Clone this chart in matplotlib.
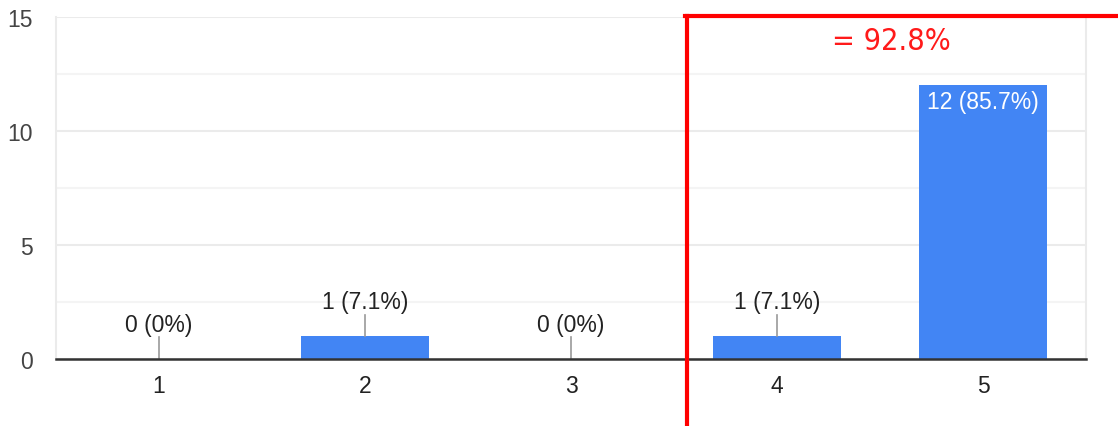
import numpy as np
import matplotlib.pyplot as plt
from matplotlib.lines import Line2D

categories = ["1", "2", "3", "4", "5"]
counts = [0, 1, 0, 1, 12]
percents = ["0%", "7.1%", "0%", "7.1%", "85.7%"]
total_note = "= 92.8%"

plt.rcParams['font.family'] = ['Liberation Sans', 'DejaVu Sans']

fig = plt.figure(figsize=(11.18, 4.27), dpi=100)
ax = fig.add_axes([56/1118, 1-360/427, 1030/1118, 342/427])

xpos = np.arange(1, len(categories)+1)
ax.bar(xpos, counts, width=0.62, color='#4285f4', zorder=3)

ax.set_xlim(0.5, 5.5)
ax.set_ylim(0, 15)
ax.set_yticks([0, 5, 10, 15])
ax.set_yticks([2.5, 7.5, 12.5], minor=True)
ax.set_xticks(xpos)
ax.set_xticklabels(categories)
ax.tick_params(axis='y', which='both', length=0, pad=17, labelsize=16.5, labelcolor='#444444')
ax.tick_params(axis='x', length=0, pad=11, labelsize=16.5, labelcolor='#222222')
ax.grid(axis='y', which='major', color='#ebebeb', lw=1.5, zorder=0)
ax.grid(axis='y', which='minor', color='#f4f4f4', lw=1.5, zorder=0)

ax.spines['top'].set_visible(False)
ax.spines['left'].set_color('#ebebeb')
ax.spines['right'].set_color('#ebebeb')
ax.spines['left'].set_linewidth(1.5)
ax.spines['right'].set_linewidth(1.5)
ax.spines['bottom'].set_color('#333333')
ax.spines['bottom'].set_linewidth(1.8)
ax.spines['bottom'].set_zorder(5)

for x, c, p in zip(xpos, counts, percents):
    lab = "%d (%s)" % (c, p)
    if c >= 5:
        ax.text(x, c - 0.72, lab, ha='center', va='center', color='white', fontsize=16.5, zorder=4)
    else:
        ax.plot([x, x], [c, c + 0.95], color='#999999', lw=1.2, zorder=4)
        ax.text(x, c + 1.5, lab, ha='center', va='center', color='#222222', fontsize=16.5, zorder=4)

# red box drawn on top
xr = 687/1118
yr = 1 - 17/427
fig.add_artist(Line2D([xr, xr], [0, yr], transform=fig.transFigure, color='#ff0000', lw=3))
fig.add_artist(Line2D([xr - 1.5/1118, 1], [yr, yr], transform=fig.transFigure, color='#ff0000', lw=3))
fig.text(891/1118, 1 - 42/427, total_note, ha='center', va='center', color='#ff1a1a',
         fontsize=22, family='DejaVu Sans', fontstretch='condensed')

fig.savefig('out.png', dpi=100)
